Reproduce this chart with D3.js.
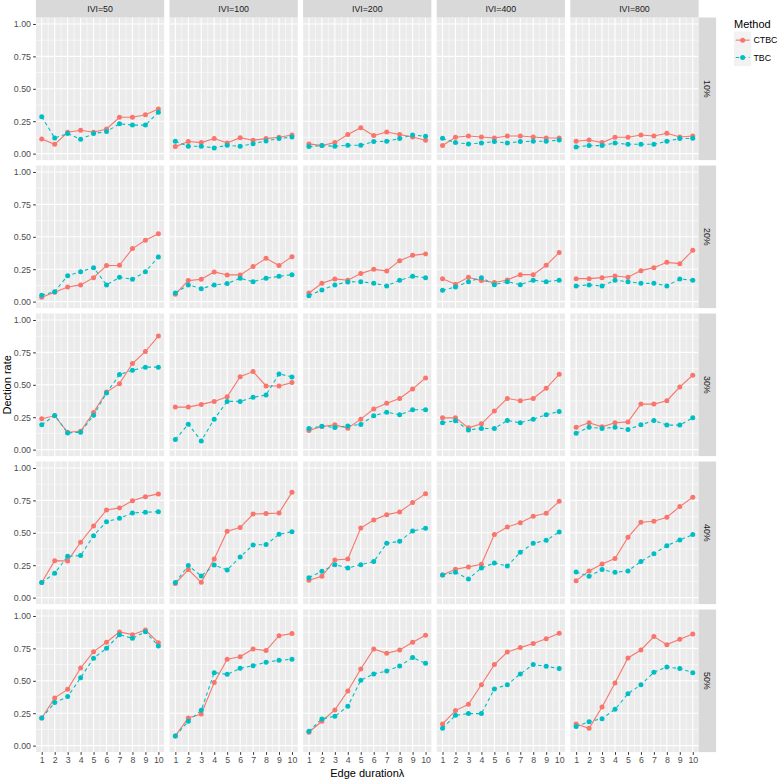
<!DOCTYPE html>
<html><head><meta charset="utf-8">
<script src="https://cdn.jsdelivr.net/npm/d3@7"></script>
<style>body{margin:0;background:#fff}text{font-family:"Liberation Sans",Arial,sans-serif}</style>
</head><body><svg id="c" width="777" height="780"></svg>
<script>
const colLabels = ["IVI=50","IVI=100","IVI=200","IVI=400","IVI=800"];
const rowLabels = ["10%","20%","30%","40%","50%"];
const xValues = [1,2,3,4,5,6,7,8,9,10];
const yTicks = [0,0.25,0.5,0.75,1];
const methods = ["CTBC","TBC"];

const ctbcR1 = [
 [0.113,0.072,0.165,0.18,0.165,0.19,0.28,0.28,0.30,0.345],
 [0.054,0.093,0.085,0.116,0.082,0.123,0.103,0.116,0.126,0.144],
 [0.075,0.062,0.085,0.147,0.20,0.139,0.167,0.147,0.128,0.103],
 [0.062,0.126,0.136,0.128,0.121,0.136,0.136,0.128,0.121,0.121],
 [0.095,0.105,0.085,0.126,0.126,0.144,0.136,0.157,0.128,0.136]];
const tbcR1 = [
 [0.285,0.12,0.155,0.11,0.155,0.17,0.23,0.22,0.22,0.32],
 [0.095,0.057,0.057,0.044,0.064,0.057,0.077,0.098,0.116,0.128],
 [0.054,0.062,0.057,0.064,0.064,0.093,0.095,0.116,0.144,0.134],
 [0.118,0.085,0.075,0.082,0.093,0.082,0.093,0.095,0.095,0.105],
 [0.051,0.062,0.062,0.082,0.072,0.072,0.072,0.095,0.116,0.118]];
const ctbcR2 = [
 [0.033,0.072,0.113,0.129,0.185,0.278,0.28,0.409,0.473,0.524],
 [0.057,0.162,0.172,0.229,0.206,0.206,0.27,0.334,0.278,0.347],
 [0.067,0.141,0.175,0.165,0.216,0.249,0.237,0.316,0.357,0.368],
 [0.177,0.134,0.188,0.162,0.147,0.167,0.208,0.208,0.28,0.378],
 [0.177,0.177,0.185,0.198,0.188,0.239,0.262,0.303,0.293,0.396]];
const tbcR2 = [
 [0.049,0.077,0.20,0.231,0.262,0.129,0.188,0.172,0.231,0.344],
 [0.067,0.129,0.10,0.129,0.139,0.18,0.154,0.18,0.195,0.208],
 [0.046,0.09,0.129,0.152,0.154,0.141,0.121,0.165,0.195,0.185],
 [0.087,0.113,0.154,0.185,0.131,0.154,0.131,0.165,0.154,0.165],
 [0.121,0.129,0.121,0.165,0.154,0.141,0.141,0.121,0.175,0.165]];
const ctbcR3 = [
 [0.238,0.261,0.134,0.142,0.287,0.444,0.509,0.664,0.757,0.876],
 [0.328,0.328,0.349,0.372,0.408,0.563,0.602,0.491,0.491,0.517],
 [0.147,0.178,0.191,0.165,0.235,0.313,0.357,0.395,0.468,0.553],
 [0.245,0.245,0.168,0.199,0.297,0.395,0.377,0.395,0.473,0.581],
 [0.173,0.207,0.176,0.207,0.214,0.351,0.351,0.377,0.483,0.574]];
const tbcR3 = [
 [0.191,0.264,0.129,0.134,0.266,0.437,0.579,0.612,0.636,0.636],
 [0.078,0.196,0.067,0.235,0.372,0.372,0.403,0.421,0.584,0.561],
 [0.163,0.181,0.171,0.183,0.194,0.261,0.289,0.269,0.307,0.307],
 [0.207,0.222,0.152,0.163,0.163,0.225,0.207,0.235,0.269,0.295],
 [0.127,0.173,0.163,0.173,0.155,0.191,0.225,0.189,0.189,0.245]];
const ctbcR4 = [
 [0.116,0.285,0.283,0.427,0.553,0.676,0.692,0.748,0.779,0.80],
 [0.108,0.216,0.118,0.298,0.512,0.54,0.645,0.648,0.653,0.812],
 [0.134,0.165,0.29,0.298,0.537,0.599,0.64,0.661,0.733,0.802],
 [0.175,0.219,0.237,0.257,0.486,0.545,0.578,0.627,0.65,0.743],
 [0.131,0.206,0.26,0.301,0.465,0.581,0.589,0.62,0.702,0.774]];
const tbcR4 = [
 [0.116,0.188,0.319,0.324,0.478,0.586,0.612,0.653,0.658,0.663],
 [0.116,0.247,0.167,0.252,0.213,0.314,0.406,0.409,0.488,0.509],
 [0.154,0.203,0.254,0.229,0.254,0.278,0.419,0.434,0.514,0.535],
 [0.175,0.195,0.144,0.229,0.267,0.244,0.35,0.419,0.442,0.506],
 [0.198,0.165,0.216,0.195,0.206,0.278,0.339,0.401,0.445,0.486]];
const ctbcR5 = [
 [0.213,0.368,0.434,0.599,0.725,0.797,0.877,0.856,0.892,0.794],
 [0.075,0.213,0.244,0.486,0.666,0.686,0.746,0.733,0.848,0.864],
 [0.103,0.188,0.275,0.422,0.591,0.746,0.712,0.738,0.797,0.851],
 [0.167,0.27,0.319,0.47,0.625,0.722,0.756,0.787,0.825,0.866],
 [0.167,0.134,0.298,0.483,0.676,0.738,0.841,0.779,0.82,0.861]];
const tbcR5 = [
 [0.213,0.332,0.378,0.524,0.674,0.751,0.856,0.828,0.879,0.769],
 [0.075,0.188,0.272,0.563,0.55,0.596,0.617,0.643,0.658,0.666],
 [0.111,0.206,0.226,0.303,0.504,0.553,0.576,0.614,0.679,0.635],
 [0.134,0.234,0.247,0.247,0.437,0.47,0.553,0.625,0.612,0.594],
 [0.147,0.185,0.208,0.28,0.401,0.47,0.566,0.607,0.594,0.563]];

const ctbcRows = [ctbcR1, ctbcR2, ctbcR3, ctbcR4, ctbcR5];
const tbcRows = [tbcR1, tbcR2, tbcR3, tbcR4, tbcR5];

const colors = {CTBC:"#F8766D", TBC:"#00BFC4"};
const dashes = {CTBC:null, TBC:"3.5,3"};

const svg = d3.select("#c");
const left0 = 35.9, top0 = 17.5, pw = 128.3, ph = 142.6, stepX = 133.6, stepY = 148;
const stripH = 17.5;

const x = d3.scaleLinear().domain([0.55, 10.45]).range([0, pw]);
const y = d3.scaleLinear().domain([-0.05, 1.05]).range([ph, 0]);
const majorY = yTicks, minorY = [0.125,0.375,0.625,0.875];
const majorX = xValues, minorX = d3.range(1.5, 10, 1);

const line = d3.line().x((d,i)=>x(xValues[i])).y(d=>y(d));

rowLabels.forEach((rl, r) => {
  colLabels.forEach((cl, c) => {
    const g = svg.append("g").attr("transform", `translate(${left0 + c*stepX},${top0 + r*stepY})`);
    g.append("rect").attr("width", pw).attr("height", ph).attr("fill", "#EBEBEB");
    minorY.forEach(v => g.append("line").attr("x1",0).attr("x2",pw).attr("y1",y(v)).attr("y2",y(v)).attr("stroke","#fff").attr("stroke-width",0.55));
    minorX.forEach(v => g.append("line").attr("y1",0).attr("y2",ph).attr("x1",x(v)).attr("x2",x(v)).attr("stroke","#fff").attr("stroke-width",0.55));
    majorY.forEach(v => g.append("line").attr("x1",0).attr("x2",pw).attr("y1",y(v)).attr("y2",y(v)).attr("stroke","#fff").attr("stroke-width",1.1));
    majorX.forEach(v => g.append("line").attr("y1",0).attr("y2",ph).attr("x1",x(v)).attr("x2",x(v)).attr("stroke","#fff").attr("stroke-width",1.1));

    const series = {CTBC: ctbcRows[r][c], TBC: tbcRows[r][c]};
    methods.forEach(m => {
      g.append("path").attr("d", line(series[m])).attr("fill","none")
        .attr("stroke", colors[m]).attr("stroke-width", 1.1)
        .attr("stroke-dasharray", dashes[m]);
    });
    methods.forEach(m => {
      g.selectAll(null).data(series[m]).enter().append("circle")
        .attr("cx",(d,i)=>x(xValues[i])).attr("cy",d=>y(d)).attr("r",2.5).attr("fill",colors[m]);
    });

    if (c === 0) {
      const ax = g.append("g").call(d3.axisLeft(y).tickValues(yTicks).tickSize(2.75).tickPadding(2.2).tickFormat(d3.format(".2f")));
      ax.select(".domain").remove();
      ax.selectAll("line").attr("stroke","#333");
      ax.selectAll("text").attr("fill","#4D4D4D").style("font-size","8.8px").style("font-family","Liberation Sans, Arial, sans-serif");
    }
    if (r === rowLabels.length - 1) {
      const ax = g.append("g").attr("transform",`translate(0,${ph})`).call(d3.axisBottom(x).tickValues(xValues).tickSize(2.75).tickPadding(2.2).tickFormat(d3.format("d")));
      ax.select(".domain").remove();
      ax.selectAll("line").attr("stroke","#333");
      ax.selectAll("text").attr("fill","#4D4D4D").style("font-size","8.8px").style("font-family","Liberation Sans, Arial, sans-serif");
    }
    if (r === 0) {
      const s = svg.append("g").attr("transform", `translate(${left0 + c*stepX},${top0 - stripH})`);
      s.append("rect").attr("width", pw).attr("height", stripH).attr("fill", "#D9D9D9");
      s.append("text").attr("x", pw/2).attr("y", stripH/2).attr("dy","0.35em").attr("text-anchor","middle")
        .attr("fill","#1A1A1A").style("font-size","8.8px").text(cl);
    }
    if (c === colLabels.length - 1) {
      const s = svg.append("g").attr("transform", `translate(${left0 + c*stepX + pw},${top0 + r*stepY})`);
      s.append("rect").attr("width", stripH).attr("height", ph).attr("fill", "#D9D9D9");
      s.append("text").attr("transform",`translate(${stripH/2},${ph/2}) rotate(90)`).attr("dy","0.35em").attr("text-anchor","middle")
        .attr("fill","#1A1A1A").style("font-size","8.8px").text(rl);
    }
  });
});

// axis titles
const panelsRight = left0 + 4*stepX + pw;
svg.append("text").attr("x", (left0 + panelsRight)/2).attr("y", 777).attr("text-anchor","middle")
  .style("font-size","11px").attr("fill","#000").text("Edge durationλ");
svg.append("text").attr("transform",`translate(10.5,${top0 + (4*stepY + ph)/2}) rotate(-90)`).attr("text-anchor","middle")
  .style("font-size","11px").attr("fill","#000").text("Dection rate");

// legend
const lg = svg.append("g").attr("transform","translate(734,0)");
lg.append("text").attr("x",0).attr("y",27.5).style("font-size","11px").attr("fill","#000").text("Method");
methods.forEach((m,i) => {
  const k = lg.append("g").attr("transform",`translate(0,${31.5 + i*17.3})`);
  k.append("rect").attr("width",17.3).attr("height",17.3).attr("fill","#F2F2F2");
  k.append("line").attr("x1",1.7).attr("x2",15.6).attr("y1",8.65).attr("y2",8.65).attr("stroke",colors[m]).attr("stroke-width",1.1).attr("stroke-dasharray",dashes[m]);
  k.append("circle").attr("cx",8.65).attr("cy",8.65).attr("r",2.5).attr("fill",colors[m]);
  k.append("text").attr("x",19.5).attr("y",8.65).attr("dy","0.35em").style("font-size","8.8px").attr("fill","#000").text(m);
});
</script></body></html>
